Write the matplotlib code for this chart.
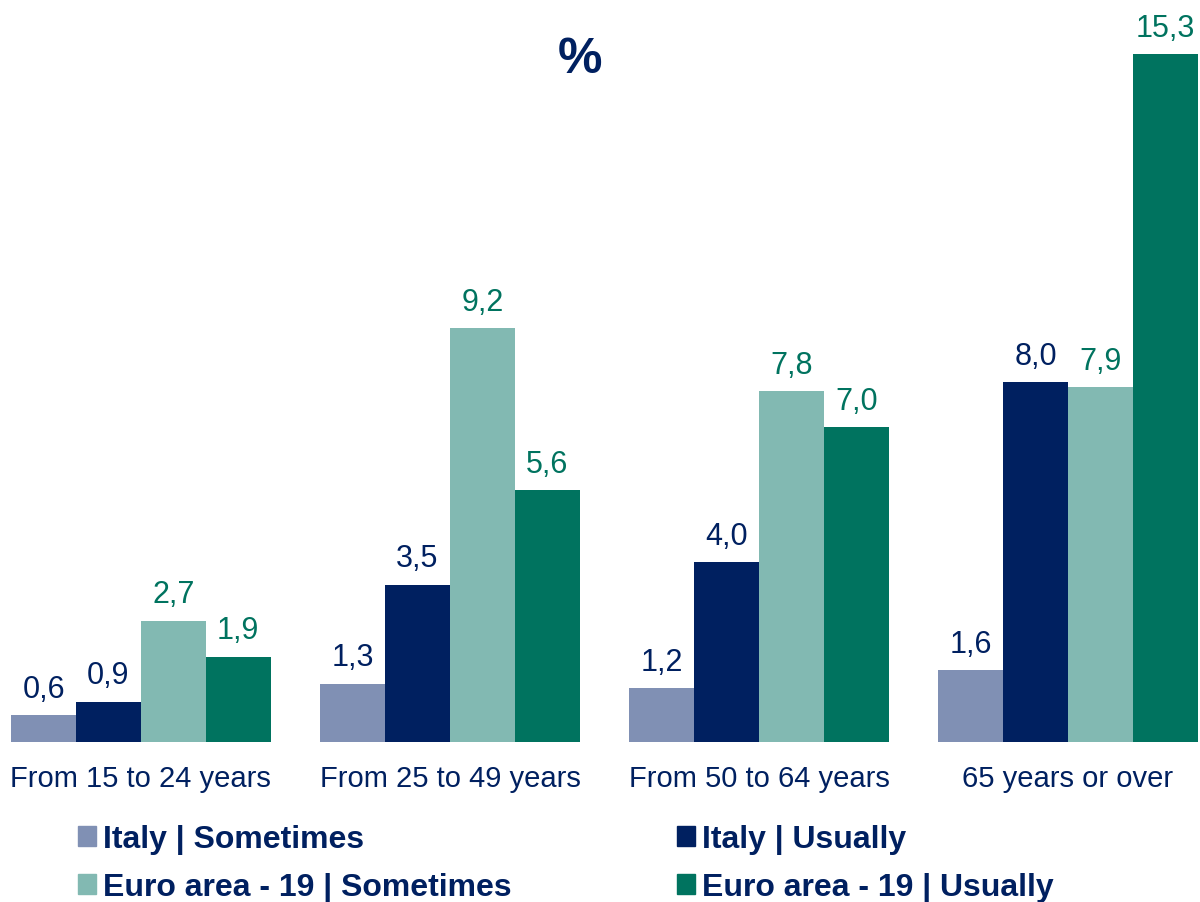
import matplotlib.pyplot as plt
from matplotlib.patches import Patch
import numpy as np

plt.rcParams['font.family'] = ['Liberation Sans', 'DejaVu Sans']

categories = ["From 15 to 24 years", "From 25 to 49 years", "From 50 to 64 years", "65 years or over"]
series_names = ["Italy | Sometimes", "Italy | Usually", "Euro area - 19 | Sometimes", "Euro area - 19 | Usually"]
italy_sometimes = [0.6, 1.3, 1.2, 1.6]
italy_usually = [0.9, 3.5, 4.0, 8.0]
euro_sometimes = [2.7, 9.2, 7.8, 7.9]
euro_usually = [1.9, 5.6, 7.0, 15.3]

navy = "#002060"
teal = "#00735F"
colors = ["#8090B4", navy, "#82B9B2", teal]
label_colors = [navy, navy, teal, teal]

fig = plt.figure(figsize=(12, 9.03), dpi=100)
ax = fig.add_axes([0, 0.1772, 1, 0.797])

x = np.arange(len(categories))
w = 0.21
series = [italy_sometimes, italy_usually, euro_sometimes, euro_usually]
for i, vals in enumerate(series):
    pos = x + (i - 1.5) * w
    bars = ax.bar(pos, vals, width=w, color=colors[i], label=series_names[i])
    for b, v in zip(bars, vals):
        ax.annotate(f"{v:.1f}".replace(".", ","), (b.get_x() + b.get_width() / 2, v),
                    xytext=(0, 8), textcoords="offset points", ha="center", va="bottom",
                    fontsize=22, color=label_colors[i])

ax.set_xlim(-0.456, 3.427)
ax.set_ylim(0, 16)
ax.set_xticks(x)
ax.set_xticklabels(categories, fontsize=21, color=navy)
ax.tick_params(axis="x", length=0, pad=16)
ax.set_yticks([])
for s in ax.spines.values():
    s.set_visible(False)

fig.text(0.483, 0.934, "%", ha="center", va="center", fontsize=36, fontweight="bold", color=navy)

handles = [Patch(color=c) for c in colors]
leg = fig.legend([handles[0], handles[2], handles[1], handles[3]],
                 [series_names[0], series_names[2], series_names[1], series_names[3]],
                 ncol=2, loc="upper left", bbox_to_anchor=(0.065, 0.086), frameon=False,
                 borderpad=0, borderaxespad=0,
                 prop={"size": 23, "weight": "bold"}, handlelength=0.55, handleheight=0.55,
                 handletextpad=0.22, columnspacing=5.2, labelspacing=0.56)
for t in leg.get_texts():
    t.set_color(navy)

fig.savefig("out.png", dpi=100)
